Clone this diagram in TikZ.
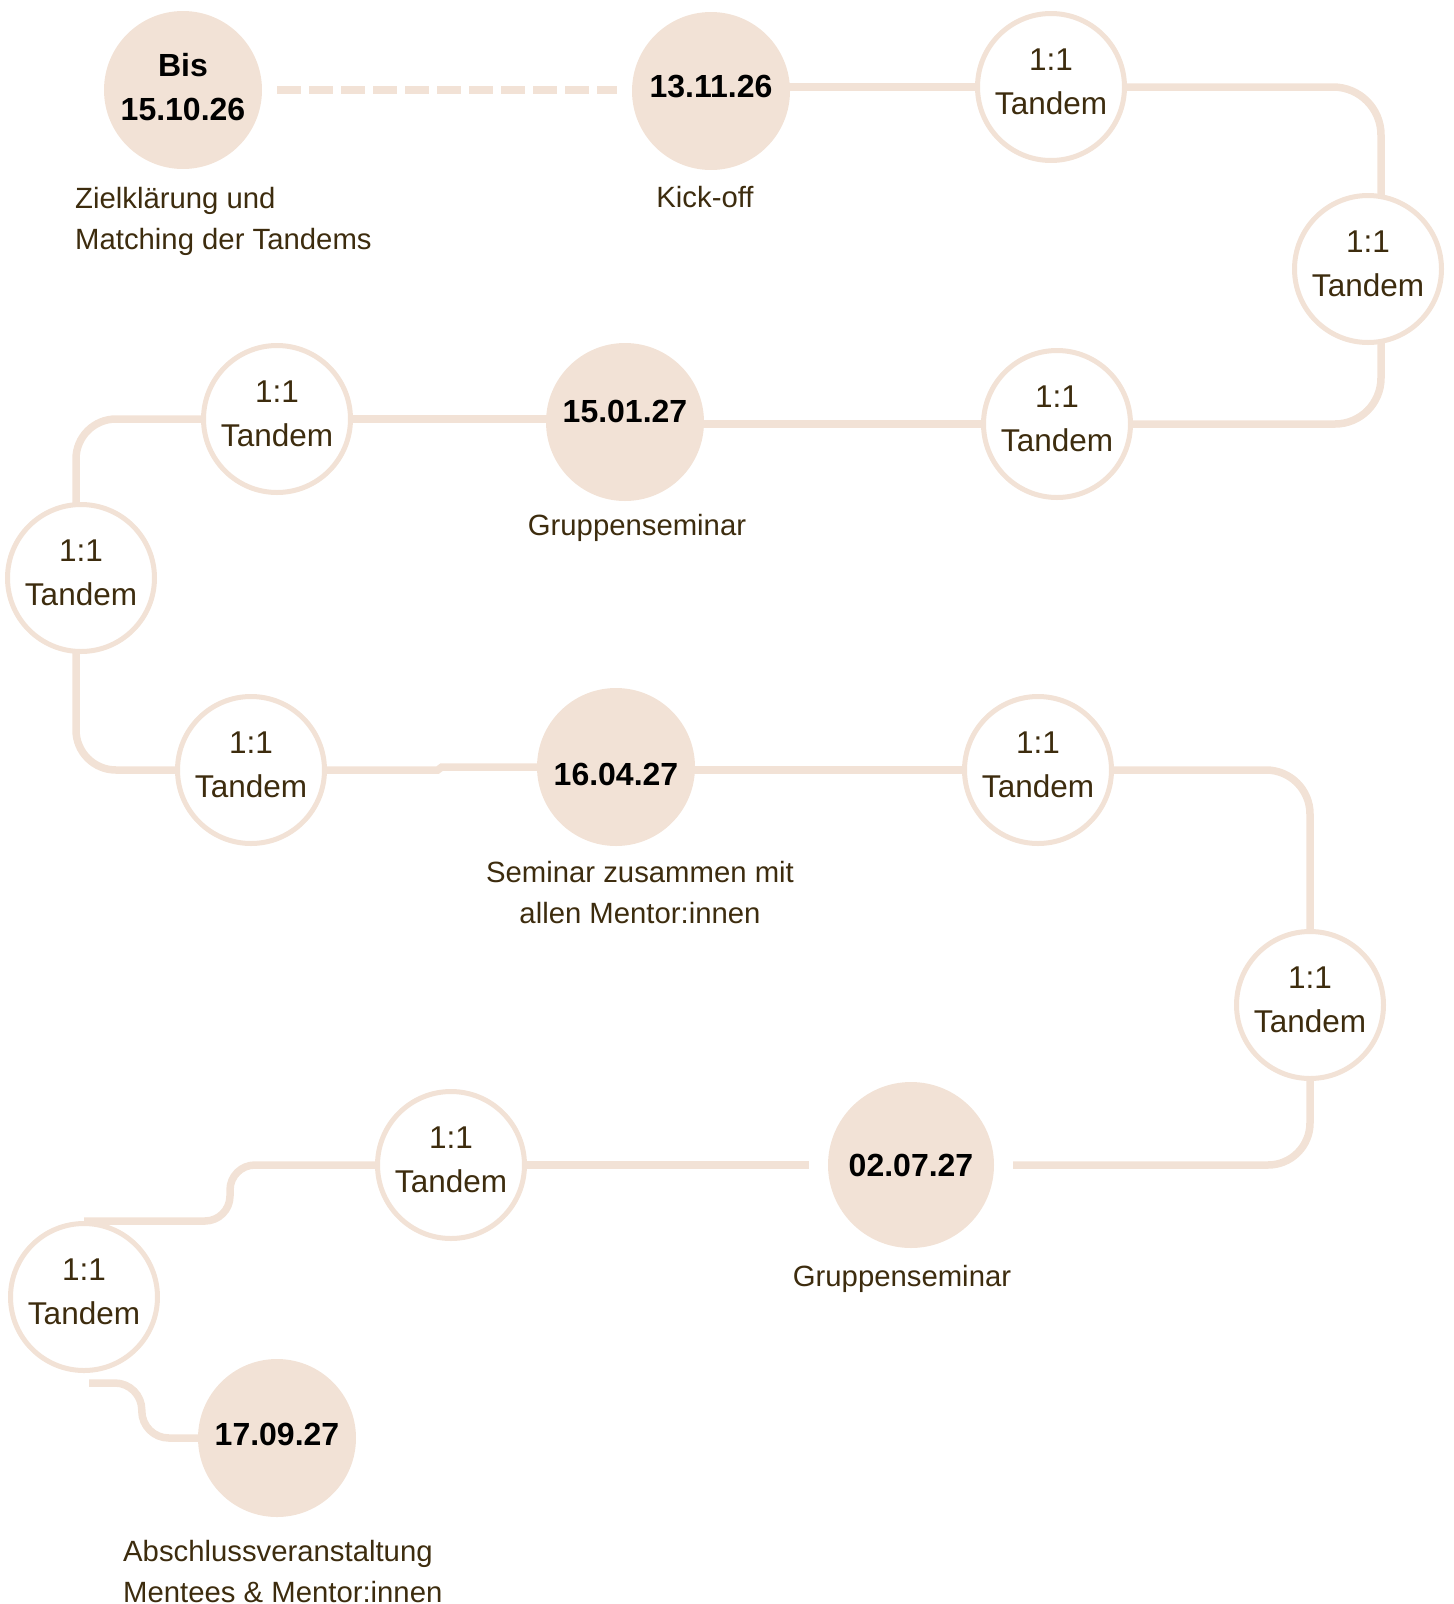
\documentclass[tikz,border=0pt]{standalone}
\usepackage{fontspec}
\setmainfont{Liberation Sans}
\usetikzlibrary{positioning}
\definecolor{sand}{RGB}{242,226,214}
\definecolor{bark}{RGB}{61,44,14}
\pgfdeclarelayer{bg}
\pgfsetlayers{bg,main}
\tikzset{
  datum/.style={circle, fill=sand, minimum size=158pt, inner sep=0pt, align=center,
    font=\fontsize{32}{44}\selectfont\bfseries, text=black, text height=23pt},
  tandem/.style={circle, draw=sand, line width=5pt, fill=white, minimum size=147pt,
    inner sep=0pt, align=center, font=\fontsize{31.5}{44}\selectfont, text=bark,
    text depth=10pt},
  caption/.style={font=\fontsize{29.3}{41}\selectfont, text=bark, inner sep=0pt},
  track/.style={draw=sand, line width=7.5pt},
  dashtrack/.style={track, dash pattern=on 24pt off 8pt},
}
\begin{document}
\begin{tikzpicture}[x=1pt,y=-1pt]
\useasboundingbox (0,0) rectangle (1454,1604);
% Termine
\node[datum, text height=, text depth=7pt] (d1) at (183,90) {Bis\\15.10.26};
\node[datum, text depth=11pt] (d2) at (711,91) {13.11.26};
\node[datum, text depth=23pt] (d3) at (625,422) {15.01.27};
\node[datum, text height=37pt] (d4) at (616,767) {16.04.27};
\node[datum, minimum size=166pt] (d5) at (911,1165) {02.07.27};
\node[datum, text depth=9pt] (d6) at (277,1438) {17.09.27};
% Tandems
\node[tandem] (t1) at (1051,87) {1:1\\Tandem};
\node[tandem] (t2) at (1368,269) {1:1\\Tandem};
\node[tandem] (t3) at (1057,424) {1:1\\Tandem};
\node[tandem] (t4) at (277,419) {1:1\\Tandem};
\node[tandem] (t5) at (81,578) {1:1\\Tandem};
\node[tandem] (t6) at (251,770) {1:1\\Tandem};
\node[tandem] (t7) at (1038,770) {1:1\\Tandem};
\node[tandem] (t8) at (1310,1005) {1:1\\Tandem};
\node[tandem] (t9) at (451,1165) {1:1\\Tandem};
\node[tandem] (t10) at (84,1297) {1:1\\Tandem};
% Beschriftungen
\node[caption, anchor=base west, align=left] (l1) at (75,249) {Zielklärung und\\Matching der Tandems};
\node[caption, anchor=base] (l2) at (705,207) {Kick-off};
\node[caption, anchor=base] (l3) at (637,535) {Gruppenseminar};
\node[caption, anchor=base, align=center] (l4) at (640,923) {Seminar zusammen mit\\allen Mentor:innen};
\node[caption, anchor=base] (l5) at (902,1286) {Gruppenseminar};
\node[caption, anchor=base west, align=left] (l6) at (123,1602) {Abschlussveranstaltung\\Mentees \& Mentor:innen};
% Verbindungen
\begin{pgfonlayer}{bg}
\draw[dashtrack, shorten <=15pt, shorten >=15pt] (d1.east) -- (d1.east -| d2.west);
\draw[track] (d2.center |- t1) -- (t1);
\draw[track, rounded corners=48pt] (t1) -| ([xshift=13pt]t2.center);
\draw[track, rounded corners=46pt] ([xshift=13pt]t2.center) |- (t3);
\draw[track] (t3) -- (d3 |- t3);
\draw[track] (d3.center |- t4) -- (t4);
\draw[track, rounded corners=40pt] (t4) -| ([xshift=-5pt]t5.center);
\draw[track, rounded corners=40pt] ([xshift=-5pt]t5.center) |- (t6);
\draw[track] (t6) -- ([xshift=-99pt]d4.west |- t6) -- ([xshift=-95pt]d4.west) -- (d4);
\draw[track] (d4.center |- t7) -- (t7);
\draw[track, rounded corners=44pt] (t7) -| (t8);
\draw[track, rounded corners=42pt, shorten >=19pt] (t8) |- (d5.east);
\draw[track, shorten <=19pt] (d5.west) -- (t9);
\draw[track, rounded corners=25pt] (t9) -| ([xshift=146pt]t10.north) -- (t10.north);
\draw[track, rounded corners=27pt] ([shift={(5pt,-10pt)}]t10.south) -| ([xshift=-56pt]d6.west) -- (d6.west);
\end{pgfonlayer}
\end{tikzpicture}
\end{document}
